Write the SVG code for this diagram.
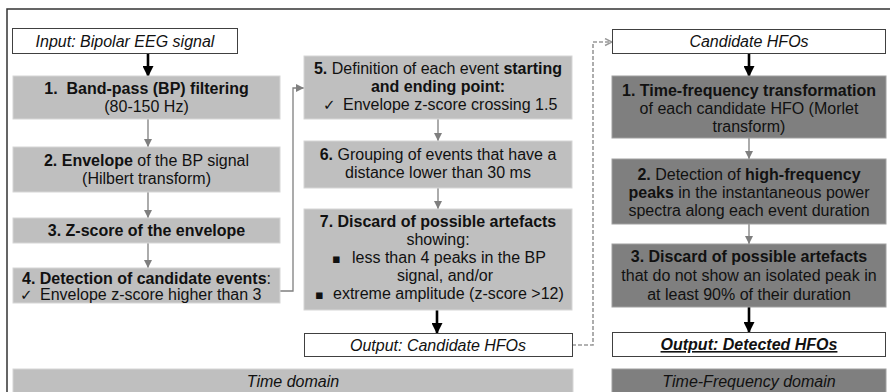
<svg xmlns="http://www.w3.org/2000/svg" width="890" height="392" viewBox="0 0 890 392">
<style>
text{font-family:"Liberation Sans",Arial,"DejaVu Sans",sans-serif;font-size:16px;fill:#111}
.c{text-anchor:middle}
.b{font-weight:bold}
.i{font-style:italic}
.lb{fill:#bfbfbf;stroke:#d6d6d6;stroke-width:1}
.db{fill:#7f7f7f;stroke:#a0a0a0;stroke-width:1}
.wb{fill:#fff;stroke:#404040;stroke-width:1}
.gc{stroke:#7f7f7f;stroke-width:1.3;fill:none}
.bc{stroke:#000;stroke-width:2.6;fill:none}
.dc{stroke:#999;stroke-width:1.6;fill:none;stroke-dasharray:4 2}
.sym{font-family:"DejaVu Sans",sans-serif}
</style>
<defs>
<marker id="ga" markerUnits="userSpaceOnUse" markerWidth="8" markerHeight="8" refX="8" refY="4" orient="auto"><path d="M0,0 L8,4 L0,8 z" fill="#7f7f7f"/></marker>
<marker id="ba" markerUnits="userSpaceOnUse" markerWidth="11" markerHeight="11" refX="10" refY="5.5" orient="auto"><path d="M0,0 L11,5.5 L0,11 z" fill="#000"/></marker>
<marker id="da" markerUnits="userSpaceOnUse" markerWidth="9" markerHeight="9" refX="8" refY="4" orient="auto"><path d="M1,0.5 L8,4 L1,7.5" fill="none" stroke="#999" stroke-width="1.4"/></marker>
</defs>
<rect width="890" height="392" fill="#fff"/>
<path d="M7,392 V9 H890" fill="none" stroke="#333" stroke-width="1.5"/>

<g id="connectors">
<line class="bc" x1="148" y1="53" x2="148" y2="76" marker-end="url(#ba)"/>
<line class="gc" x1="148" y1="119" x2="148" y2="147" marker-end="url(#ga)"/>
<line class="gc" x1="148" y1="192" x2="148" y2="218" marker-end="url(#ga)"/>
<line class="gc" x1="148" y1="243" x2="148" y2="268" marker-end="url(#ga)"/>
<polyline class="gc" points="280,291 293,291 293,88 304,88" marker-end="url(#ga)"/>
<line class="gc" x1="438" y1="119" x2="438" y2="141" marker-end="url(#ga)"/>
<line class="gc" x1="438" y1="188" x2="438" y2="209" marker-end="url(#ga)"/>
<line class="bc" x1="437" y1="310" x2="437" y2="333" marker-end="url(#ba)"/>
<polyline class="dc" points="572,345 593,345 593,42 612,42" marker-end="url(#da)"/>
<line class="bc" x1="749" y1="53" x2="749" y2="76" marker-end="url(#ba)"/>
<line class="gc" x1="749" y1="138" x2="749" y2="159" marker-end="url(#ga)"/>
<line class="gc" x1="749" y1="224" x2="749" y2="244" marker-end="url(#ga)"/>
<line class="bc" x1="749" y1="307" x2="749" y2="332" marker-end="url(#ba)"/>
</g>

<g id="input">
<rect class="wb" x="12.5" y="28.5" width="225" height="25"/>
<text class="c i" font-size="15" x="125" y="46.5">Input: Bipolar EEG signal</text>
</g>
<g id="step1">
<rect class="lb" x="13" y="76" width="267" height="43"/>
<text class="c b" x="146.5" y="94">1.&#160;&#160;Band-pass (BP) filtering</text>
<text class="c" x="146.5" y="112">(80-150 Hz)</text>
</g>
<g id="step2">
<rect class="lb" x="13" y="147" width="267" height="45"/>
<text class="c" x="146.5" y="166"><tspan class="b">2. Envelope</tspan> of the BP signal</text>
<text class="c" x="146.5" y="184">(Hilbert transform)</text>
</g>
<g id="step3">
<rect class="lb" x="13" y="218" width="267" height="25"/>
<text class="c b" x="146.5" y="236">3. Z-score of the envelope</text>
</g>
<g id="step4">
<rect class="lb" x="13" y="268" width="267" height="35"/>
<text class="c" x="146.5" y="284"><tspan class="b">4. Detection of candidate events</tspan>:</text>
<text x="20" y="300"><tspan class="sym" font-size="15">✓</tspan><tspan x="40">Envelope z-score higher than 3</tspan></text>
</g>
<g id="step5">
<rect class="lb" x="304" y="56" width="268" height="63"/>
<text class="c" x="438" y="74"><tspan class="b">5.</tspan> Definition of each event <tspan class="b">starting</tspan></text>
<text class="c b" x="438" y="92">and ending point:</text>
<text x="323" y="110"><tspan class="sym" font-size="15">✓</tspan><tspan x="343">Envelope z-score crossing 1.5</tspan></text>
</g>
<g id="step6">
<rect class="lb" x="304" y="141" width="268" height="47"/>
<text class="c" x="438" y="160"><tspan class="b">6.</tspan> Grouping of events that have a</text>
<text class="c" x="438" y="178">distance lower than 30 ms</text>
</g>
<g id="step7">
<rect class="lb" x="304" y="209" width="268" height="101"/>
<text class="c b" x="438" y="227">7. Discard of possible artefacts</text>
<text class="c" x="438" y="245">showing:</text>
<text x="332" y="263"><tspan class="sym" font-size="13">▪</tspan><tspan x="352">less than 4 peaks in the BP</tspan></text>
<text x="397" y="281">signal, and/or</text>
<text x="315" y="299"><tspan class="sym" font-size="13">▪</tspan><tspan x="333">extreme amplitude (z-score &gt;12)</tspan></text>
</g>
<g id="out-candidate">
<rect class="wb" x="304.5" y="333.5" width="268" height="23"/>
<text class="c i" x="438" y="351">Output: Candidate HFOs</text>
</g>
<g id="candidate">
<rect class="wb" x="612.5" y="29.5" width="273" height="24"/>
<text class="c i" x="749" y="47">Candidate HFOs</text>
</g>
<g id="tf1">
<rect class="db" x="612" y="76" width="274" height="62"/>
<text class="c b" x="749" y="96">1. Time-frequency transformation</text>
<text class="c" x="749" y="114">of each candidate HFO (Morlet</text>
<text class="c" x="749" y="132">transform)</text>
</g>
<g id="tf2">
<rect class="db" x="612" y="159" width="274" height="65"/>
<text class="c" x="749" y="180"><tspan class="b">2.</tspan> Detection of <tspan class="b">high-frequency</tspan></text>
<text class="c" x="749" y="198"><tspan class="b">peaks</tspan> in the instantaneous power</text>
<text class="c" x="749" y="216">spectra along each event duration</text>
</g>
<g id="tf3">
<rect class="db" x="612" y="244" width="274" height="63"/>
<text class="c b" x="749" y="262">3. Discard of possible artefacts</text>
<text class="c" x="749" y="281">that do not show an isolated peak in</text>
<text class="c" x="749" y="300">at least 90% of their duration</text>
</g>
<g id="out-detected">
<rect class="wb" x="612.5" y="332.5" width="273" height="24"/>
<text class="c b i" text-decoration="underline" x="749" y="350">Output: Detected HFOs</text>
</g>
<g id="time-domain">
<rect class="lb" x="13" y="369" width="560" height="30"/>
<text class="c i" x="293" y="387">Time domain</text>
</g>
<g id="tf-domain">
<rect class="db" x="612" y="369" width="274" height="30"/>
<text class="c i" x="749" y="387">Time-Frequency domain</text>
</g>
</svg>
